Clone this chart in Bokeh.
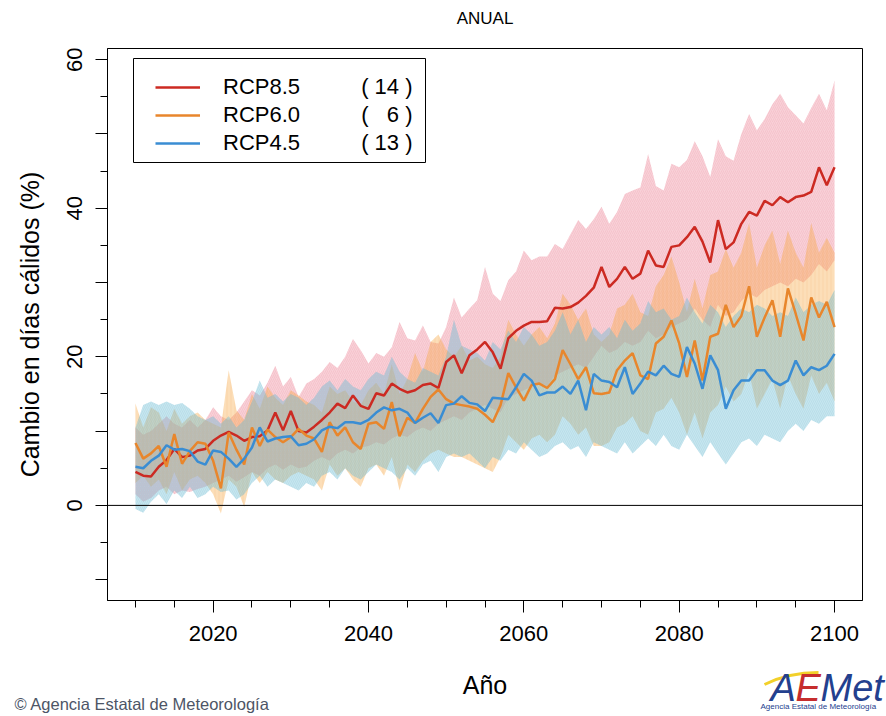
from bokeh.plotting import figure
from bokeh.models import Range1d, FixedTicker, Span, Legend, LegendItem, BoxAnnotation
from bokeh.layouts import column
from bokeh.core.properties import value
from bokeh.embed import file_html
from bokeh.resources import INLINE

years = list(range(2010, 2101))

rcp85_mean = [4.5, 4.0, 3.9, 5.2, 6.1, 7.6, 6.5, 6.7, 7.4, 7.6,
              8.7, 9.4, 9.9, 9.4, 8.7, 9.2, 9.3, 10.1, 12.5, 10.1,
              12.7, 10.0, 9.8, 10.6, 11.5, 12.5, 13.7, 13.1, 14.8, 13.4,
              13.0, 15.1, 14.8, 16.4, 15.7, 15.2, 15.5, 16.2, 16.4, 15.8,
              19.3, 20.2, 17.8, 20.2, 21.0, 22.0, 20.6, 18.4, 22.5, 23.5,
              24.2, 24.7, 24.7, 24.8, 26.6, 26.5, 26.7, 27.3, 28.2, 29.3,
              32.1, 29.4, 30.5, 32.1, 30.5, 31.2, 34.3, 32.3, 32.1, 34.8,
              35.0, 36.1, 37.5, 35.5, 32.7, 38.4, 34.5, 35.4, 37.9, 39.5,
              39.0, 41.0, 40.4, 41.5, 40.8, 41.5, 41.7, 42.2, 45.5, 43.1,
              45.5]
rcp85_hi = [10.5, 9.5, 10.0, 11.0, 12.0, 11.0, 10.5, 11.5, 10.5, 11.5,
            13.2, 12.0, 11.5, 12.5, 14.0, 15.5, 14.8, 16.5, 18.8, 16.0,
            17.3, 14.6, 16.4, 17.0, 18.0, 19.3, 18.5, 20.0, 22.4, 20.9,
            19.1, 20.5, 20.0, 21.3, 24.7, 22.5, 22.2, 24.2, 22.0, 21.8,
            24.0, 28.0, 25.3, 26.5, 27.6, 32.1, 28.5, 27.5, 30.3, 31.5,
            34.3, 33.0, 33.5, 33.5, 35.2, 34.5, 36.5, 38.4, 37.2, 38.5,
            40.2, 37.9, 39.5, 41.9, 42.4, 42.8, 47.3, 43.0, 42.4, 46.0,
            45.5, 46.5, 49.0, 47.0, 44.2, 49.3, 47.0, 46.4, 50.0, 52.7,
            50.5, 52.0, 54.0, 55.4, 53.6, 52.5, 51.4, 53.5, 55.4, 53.2,
            57.2]
rcp85_lo = [1.5, 0.5, 1.0, 2.0, 2.5, 1.5, 2.0, 1.8, 2.2, 2.5,
            3.0, 3.5, 4.0, 3.2, 3.8, 4.5, 4.0, 5.0, 5.5, 4.8,
            5.5, 5.0, 5.2, 6.0, 6.5, 6.0, 7.0, 7.5, 7.0, 7.8,
            8.0, 8.5, 8.2, 9.0, 9.5, 9.2, 10.0, 10.5, 10.0, 11.0,
            11.5, 12.0, 11.5, 12.5, 13.0, 13.5, 13.0, 12.5, 14.5, 15.0,
            15.5, 16.0, 16.5, 16.0, 17.5, 18.0, 18.5, 19.0, 18.5, 20.0,
            21.5, 20.5, 21.0, 22.0, 21.5, 22.0, 23.5, 22.5, 23.0, 24.0,
            24.5, 25.0, 26.5, 25.0, 24.0, 27.0, 25.5, 26.0, 27.5, 28.5,
            28.0, 29.0, 29.5, 30.0, 29.5, 30.5, 30.0, 31.0, 32.5, 31.5,
            33.0]

rcp60_mean = [8.4, 6.3, 7.0, 8.0, 5.2, 9.6, 5.6, 7.3, 8.5, 8.3,
              6.0, 2.3, 9.8, 7.5, 5.5, 10.5, 8.0, 10.2, 9.2, 8.5,
              9.2, 10.3, 9.4, 9.0, 7.2, 11.2, 9.4, 10.5, 8.5, 7.6,
              11.0, 11.2, 10.3, 13.9, 9.3, 11.8, 11.1, 13.0, 14.6, 15.6,
              14.3, 13.7, 13.5, 13.3, 13.0, 12.2, 11.2, 13.5, 17.8, 15.9,
              14.1, 16.2, 16.4, 15.8, 17.0, 20.9, 19.0, 17.0, 18.6, 15.1,
              15.0, 15.2, 18.2, 19.5, 20.5, 17.5, 17.0, 21.8, 22.7, 24.9,
              21.8, 17.3, 22.2, 16.8, 22.7, 23.1, 27.0, 24.0, 25.5, 29.5,
              22.7, 25.3, 27.6, 22.7, 29.2, 25.8, 22.2, 28.0, 25.3, 27.4,
              24.0]
rcp60_hi = [13.7, 10.5, 13.2, 12.5, 10.0, 13.0, 11.0, 12.0, 12.5, 11.5,
            11.0, 10.5, 18.2, 12.8, 11.5, 15.0, 13.0, 16.0, 14.5, 13.5,
            15.5, 14.8, 14.0, 13.5, 12.5, 16.0, 15.0, 15.5, 14.0, 13.5,
            15.5, 16.5, 15.0, 19.0, 15.0, 17.0, 20.5, 18.0, 22.0, 23.0,
            21.0, 20.0, 21.5, 19.5, 20.0, 19.0, 18.5, 20.0, 25.0, 23.0,
            21.5, 23.0, 24.0, 22.5, 24.5, 28.5, 27.0, 25.0, 26.5, 23.0,
            22.0, 23.0, 26.5, 27.0, 28.5, 26.0, 25.5, 29.5, 31.0, 33.5,
            30.0, 26.0, 30.5, 26.5, 31.0, 31.5, 34.5, 32.0, 34.0, 38.0,
            32.0, 35.0, 37.0, 32.5, 37.0, 34.0, 32.0, 38.0, 34.0, 36.0,
            34.0]
rcp60_lo = [3.0, 4.0, 2.5, 3.5, 1.5, 4.5, 2.0, 3.5, 4.0, 3.0,
            1.5, -1.1, 3.5, 2.5, -0.2, 4.5, 3.0, 4.5, 3.5, 3.0,
            4.0, 4.5, 4.0, 3.5, 2.0, 5.5, 4.0, 5.0, 3.5, 2.5,
            5.0, 5.5, 4.0, 6.5, 2.0, 5.5, 4.5, 6.0, 7.0, 7.5,
            7.0, 6.5, 6.5, 6.0, 5.5, 5.0, 4.5, 6.5, 9.5, 8.5,
            7.5, 9.0, 9.5, 8.5, 9.5, 12.0, 11.0, 9.5, 10.5, 8.0,
            8.0, 8.5, 10.5, 11.0, 12.0, 10.0, 9.5, 12.5, 13.0, 14.5,
            12.5, 9.5, 12.5, 9.0, 12.5, 13.5, 16.0, 14.0, 15.0, 18.0,
            13.0, 15.0, 17.0, 13.0, 17.5, 15.0, 13.0, 17.5, 15.0, 16.5,
            14.0]

rcp45_mean = [5.2, 5.0, 6.0, 6.7, 8.1, 7.5, 7.6, 7.3, 5.9, 5.5,
              7.4, 7.2, 6.3, 5.2, 6.3, 7.8, 10.5, 8.6, 9.0, 9.2,
              9.3, 8.1, 8.3, 8.9, 10.1, 10.6, 10.4, 11.2, 11.2, 11.0,
              11.5, 12.5, 13.2, 12.8, 13.0, 12.5, 11.1, 11.8, 12.4, 11.1,
              13.5, 13.7, 14.7, 13.8, 13.6, 12.7, 14.5, 14.4, 14.3, 15.9,
              17.7, 16.8, 14.8, 15.2, 15.2, 16.0, 15.0, 16.8, 12.8, 17.7,
              16.8, 16.6, 15.9, 18.6, 15.0, 16.4, 18.0, 17.5, 18.8, 17.7,
              17.3, 21.3, 19.1, 15.7, 20.2, 18.2, 13.0, 15.5, 16.8, 16.8,
              18.2, 18.2, 16.8, 16.2, 16.8, 19.5, 17.5, 18.6, 18.2, 18.8,
              20.4]
rcp45_hi = [10.5, 13.5, 14.0, 13.5, 14.0, 13.5, 13.8, 13.0, 12.0, 11.5,
            12.0, 11.0, 12.0, 10.5, 11.5, 14.0, 16.8, 14.5, 15.0, 14.0,
            15.0, 14.5, 13.5, 14.5, 16.0, 16.8, 15.5, 17.0, 16.0, 15.5,
            17.0, 18.0, 17.5, 20.0, 18.0, 17.0, 16.5, 18.5, 18.0, 17.5,
            20.0, 25.0, 21.5, 21.0, 20.5, 19.5, 22.0, 21.0, 23.5, 22.0,
            24.0, 23.0, 21.5, 22.0, 23.5, 26.0, 23.0, 25.0, 22.0, 24.0,
            23.0, 24.0, 22.5, 25.0, 23.5, 24.5, 27.5, 26.0, 26.5, 25.0,
            25.5, 28.0, 26.0, 24.5, 27.0, 26.0, 24.0, 25.5, 26.5, 26.0,
            27.0, 26.5, 25.5, 26.0, 25.5, 28.0, 26.0, 27.0, 27.5, 27.0,
            29.0]
rcp45_lo = [-0.5, -1.0, 0.5, 1.5, 0.2, 2.0, 1.0, 2.5, 1.0, 1.5,
            2.5, 1.8, 2.0, 0.8, 1.5, 3.0, 4.0, 2.5, 3.5, 3.0,
            2.5, 2.0, 3.0, 2.5, 4.0, 4.5, 3.5, 5.0, 4.0, 3.5,
            4.5, 5.5, 5.0, 4.5, 3.5, 5.0, 4.0, 5.5, 6.0, 4.5,
            6.5, 7.0, 6.5, 7.0, 6.0, 5.0, 6.5, 6.0, 7.5, 7.0,
            8.5, 7.5, 6.5, 7.0, 8.0, 8.5, 7.5, 8.0, 6.5, 8.5,
            8.0, 7.5, 7.0, 8.5, 7.0, 8.0, 9.0, 8.0, 9.5, 8.0,
            7.5, 9.5, 8.0, 6.5, 8.5, 7.0, 5.5, 7.0, 8.5, 9.0,
            8.0, 9.5, 9.0, 8.5, 10.0, 11.0, 10.0, 11.5, 11.0, 12.0,
            12.0]

series_names = ["RCP8.5", "RCP6.0", "RCP4.5"]
model_counts = ["14", "6", "13"]
x_ticks = [2020, 2040, 2060, 2080, 2100]
x_minor = list(range(2010, 2101, 5))
y_ticks = [-10, 0, 10, 20, 30, 40, 50, 60]
y_minor = list(range(-10, 61, 5))
y_labeled = [0, 20, 40, 60]

FONT = "Liberation Sans"
RED, ORANGE, BLUE = "#cc2a22", "#e8862c", "#3a8dd3"

W = 886
HEAD_H = 30
MAIN_H = 620
FOOT_H = 66


def text_panel(height):
    f = figure(width=W, height=height, x_range=Range1d(0, W), y_range=Range1d(height, 0),
               output_backend="svg", toolbar_location=None,
               x_axis_type=None, y_axis_type=None,
               min_border_left=0, min_border_right=0, min_border_top=0, min_border_bottom=0)
    f.frame_align = False
    f.outline_line_color = None
    f.xgrid.visible = False
    f.ygrid.visible = False
    f.background_fill_color = "white"
    f.border_fill_color = "white"
    return f


# header with the title
h = text_panel(HEAD_H)
h.text(x=[484.5], y=[18], text=["ANUAL"], text_font=value(FONT), text_font_size="17px",
       text_color="black", text_align="center", text_baseline="middle")

# main chart
p = figure(width=W, height=MAIN_H,
           x_range=Range1d(2006.4, 2103.6), y_range=Range1d(-12.8, 61.5),
           output_backend="svg", toolbar_location=None,
           min_border_left=107, min_border_right=24,
           min_border_top=18, min_border_bottom=50)
p.frame_align = False
p.background_fill_color = "white"
p.border_fill_color = "white"
p.outline_line_color = "black"
p.outline_line_width = 1
p.xgrid.visible = False
p.ygrid.visible = False

for ax in (p.xaxis[0], p.yaxis[0]):
    ax.axis_line_color = "black"
    ax.major_tick_line_color = "black"
    ax.minor_tick_line_color = "black"
    ax.major_tick_in = 0
    ax.minor_tick_in = 0
    ax.major_tick_out = 12
    ax.minor_tick_out = 7
    ax.major_label_text_font = FONT
    ax.major_label_text_font_size = "22px"
    ax.major_label_text_color = "black"
    ax.axis_label_text_font = FONT
    ax.axis_label_text_font_style = "normal"
    ax.axis_label_text_font_size = "25px"
    ax.axis_label_text_color = "black"

p.xaxis.ticker = FixedTicker(ticks=x_ticks, minor_ticks=x_minor)
p.xaxis.major_label_standoff = 13

p.yaxis.ticker = FixedTicker(ticks=y_ticks, minor_ticks=y_minor)
p.yaxis.major_label_overrides = {t: (str(t) if t in y_labeled else "") for t in y_ticks}
p.yaxis.major_label_orientation = "vertical"
p.yaxis.major_label_standoff = 13
p.yaxis.axis_label = "Cambio en días cálidos (%)"
p.yaxis.axis_label_standoff = 21

bands = [
    (rcp85_lo, rcp85_hi, "#ee8397", "/", "#e07a8c"),
    (rcp60_lo, rcp60_hi, "#f7a845", "|", "#f0a050"),
    (rcp45_lo, rcp45_hi, "#6dbcd4", "\\", "#6ab0c8"),
]
for lo, hi, col, hp, hc in bands:
    p.varea(x=years, y1=lo, y2=hi, fill_color=col, fill_alpha=0.38,
            hatch_pattern=hp, hatch_color=hc, hatch_alpha=0.25,
            hatch_scale=4, hatch_weight=0.6)

p.add_layout(Span(location=0, dimension="width", line_color="black", line_width=1))

r85 = p.line(years, rcp85_mean, line_color=RED, line_width=2.5)
r60 = p.line(years, rcp60_mean, line_color=ORANGE, line_width=2.5)
r45 = p.line(years, rcp45_mean, line_color=BLUE, line_width=2.5)

# legend frame (canvas pixels of the main figure)
p.add_layout(BoxAnnotation(left=133, right=425, top=28, bottom=132,
                           left_units="canvas", right_units="canvas",
                           top_units="canvas", bottom_units="canvas",
                           fill_color="white", fill_alpha=1.0,
                           line_color="black", line_width=1, line_alpha=1.0))

nb = "\u00a0"
labels = []
for name, cnt in zip(series_names, model_counts):
    pad = nb * (2 if len(cnt) == 1 else 0)
    labels.append(name + nb * 10 + "(" + nb + pad + cnt + nb + ")")

legend = Legend(items=[LegendItem(label=labels[0], renderers=[r85]),
                       LegendItem(label=labels[1], renderers=[r60]),
                       LegendItem(label=labels[2], renderers=[r45])],
                location=(48, 443), padding=0, margin=0,
                border_line_alpha=0, background_fill_alpha=0,
                glyph_width=45, glyph_height=28, label_height=28,
                label_standoff=23, spacing=0,
                label_text_font=FONT, label_text_font_size="22px",
                label_text_color="black")
p.add_layout(legend)

# footer: x-axis title, credit line and logo
f = text_panel(FOOT_H)
f.text(x=[484.5], y=[34], text=["Año"], text_font=value(FONT), text_font_size="25px",
       text_color="black", text_align="center", text_baseline="middle")
f.text(x=[14], y=[53], text=["© Agencia Estatal de Meteorología"], text_font=value(FONT),
       text_font_size="16.5px", text_color="#4d5566", text_align="left", text_baseline="middle")
f.bezier(x0=[764], y0=[34], x1=[818], y1=[22], cx0=[780], cy0=[26], cx1=[800], cy1=[22],
         line_color="#f2d02a", line_width=3)
f.text(x=[770], y=[37], text=["A"], text_font=value(FONT), text_font_size="38px",
       text_font_style="italic", text_color="#23408e", text_baseline="alphabetic")
f.text(x=[795], y=[37], text=["E"], text_font=value(FONT), text_font_size="38px",
       text_font_style="italic", text_color="#c62d2d", text_baseline="alphabetic")
f.text(x=[820], y=[37], text=["Met"], text_font=value(FONT), text_font_size="38px",
       text_font_style="italic", text_color="#23408e", text_baseline="alphabetic")
f.text(x=[760], y=[56], text=["Agencia Estatal de Meteorología"], text_font=value(FONT),
       text_font_size="8px", text_color="#23408e", text_baseline="middle")

layout = column(h, p, f, spacing=0)
open("out.html", "w").write(file_html(layout, INLINE))
